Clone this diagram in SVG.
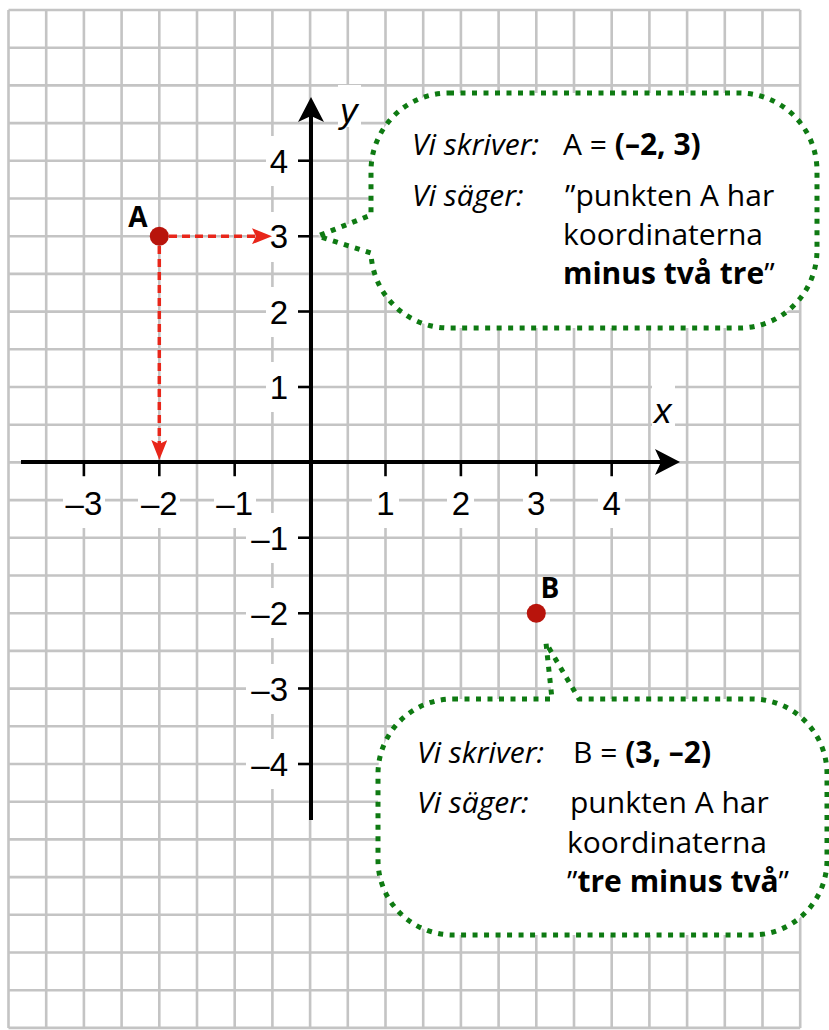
<svg xmlns="http://www.w3.org/2000/svg" width="829" height="1030" viewBox="0 0 829 1030">
<style>
.grid{stroke:#c4c4c4;stroke-width:2.6;fill:none}
.axis{stroke:#000;stroke-width:4;fill:none}
.tick{stroke:#000;stroke-width:2.5}
.num{font-family:"Liberation Sans",Arial,sans-serif;font-size:33px;fill:#000}
.var{font-family:"Liberation Sans",Arial,sans-serif;font-size:35px;font-style:italic;fill:#000}
.box{fill:#fff}
.red{stroke:#e8261a;stroke-width:3.5;stroke-dasharray:8 5;fill:none}
.pt{fill:#b8140c}
.plbl{font-family:"Open Sans",sans-serif;font-weight:bold;font-size:28px;fill:#000}
.bubble{fill:#fff;stroke:#0e7a12;stroke-width:5;stroke-dasharray:5 6.5}
.t{font-family:"Open Sans",sans-serif;font-size:30px;fill:#000}
.i{font-style:italic}
.b{font-weight:bold}
</style>
<defs>
<marker id="redArrow" viewBox="0 0 20 16" refX="4" refY="8" markerWidth="20" markerHeight="16" markerUnits="userSpaceOnUse" orient="auto">
<path d="M0,0 L20,8 L0,16 L4,8 Z" fill="#e8261a"/>
</marker>
<marker id="axArrow" viewBox="0 0 25 26" refX="6" refY="13" markerWidth="25" markerHeight="26" markerUnits="userSpaceOnUse" orient="auto">
<path d="M0,0 L25,13 L0,26 L6,13 Z" fill="#000"/>
</marker>
</defs>
<rect width="829" height="1030" fill="#fff"/>
<g id="grid" class="grid">
<path d="M8.5,10V1028M46.2,10V1028M83.9,10V1028M121.6,10V1028M159.3,10V1028M197,10V1028M234.7,10V1028M272.4,10V1028M310.1,10V1028M347.8,10V1028M385.5,10V1028M423.2,10V1028M460.9,10V1028M498.6,10V1028M536.3,10V1028M574,10V1028M611.7,10V1028M649.4,10V1028M687.1,10V1028M724.8,10V1028M762.5,10V1028M800.2,10V1028"/>
<path d="M8.5,10H800.2M8.5,47.7H800.2M8.5,85.4H800.2M8.5,123.1H800.2M8.5,160.8H800.2M8.5,198.5H800.2M8.5,236.2H800.2M8.5,273.9H800.2M8.5,311.6H800.2M8.5,349.3H800.2M8.5,387H800.2M8.5,424.7H800.2M8.5,462.4H800.2M8.5,500.1H800.2M8.5,537.8H800.2M8.5,575.5H800.2M8.5,613.2H800.2M8.5,650.9H800.2M8.5,688.6H800.2M8.5,726.3H800.2M8.5,764H800.2M8.5,801.7H800.2M8.5,839.4H800.2M8.5,877.1H800.2M8.5,914.8H800.2M8.5,952.5H800.2M8.5,990.2H800.2M8.5,1027.9H800.2"/>
</g>
<g id="label-boxes" class="box">
<rect x="63" y="477" width="42" height="51"/>
<rect x="138" y="477" width="42" height="51"/>
<rect x="214" y="477" width="42" height="51"/>
<rect x="372" y="477" width="27" height="51"/>
<rect x="447" y="477" width="27" height="51"/>
<rect x="523" y="477" width="27" height="51"/>
<rect x="598" y="477" width="27" height="51"/>
<rect x="266" y="136" width="32" height="50"/>
<rect x="266" y="212" width="32" height="50"/>
<rect x="266" y="287" width="32" height="50"/>
<rect x="266" y="362" width="32" height="50"/>
<rect x="246" y="513" width="52" height="50"/>
<rect x="246" y="588" width="52" height="50"/>
<rect x="246" y="664" width="52" height="50"/>
<rect x="246" y="739" width="52" height="50"/>
<rect x="652" y="385" width="23" height="42"/>
<rect x="338" y="85" width="23" height="42"/>
</g>
<g id="axes">
<line id="x-axis" class="axis" x1="21" y1="462" x2="661" y2="462" marker-end="url(#axArrow)"/>
<line id="y-axis" class="axis" x1="311" y1="820" x2="311" y2="116" marker-end="url(#axArrow)"/>
<g class="tick">
<path d="M83.9,462V476M159.3,462V476M234.7,462V476M385.5,462V476M460.9,462V476M536.3,462V476M611.7,462V476"/>
<path d="M298,160.8H311M298,236.2H311M298,311.6H311M298,387H311M298,537.8H311M298,613.2H311M298,688.6H311M298,764H311"/>
</g>
<g class="num" text-anchor="middle">
<text x="83.9" y="515">–3</text>
<text x="159.3" y="515">–2</text>
<text x="234.7" y="515">–1</text>
<text x="385.5" y="515">1</text>
<text x="460.9" y="515">2</text>
<text x="536.3" y="515">3</text>
<text x="611.7" y="515">4</text>
</g>
<g class="num" text-anchor="end">
<text x="288" y="172.8">4</text>
<text x="288" y="248.2">3</text>
<text x="288" y="323.6">2</text>
<text x="288" y="399">1</text>
<text x="288" y="549.8">–1</text>
<text x="288" y="625.2">–2</text>
<text x="288" y="700.6">–3</text>
<text x="288" y="776">–4</text>
</g>
<text class="var" x="654" y="423">x</text>
<text class="var" x="340" y="123">y</text>
</g>
<g id="connectors">
<line class="red" x1="169" y1="236.2" x2="256" y2="236.2" marker-end="url(#redArrow)"/>
<line class="red" x1="159.3" y1="246" x2="159.3" y2="444" marker-end="url(#redArrow)"/>
</g>
<g id="point-A">
<circle class="pt" cx="159.3" cy="236.2" r="9.5"/>
<text class="plbl" x="138" y="227" text-anchor="middle">A</text>
</g>
<g id="point-B">
<circle class="pt" cx="536.3" cy="613.2" r="9.5"/>
<text class="plbl" x="550" y="598" text-anchor="middle">B</text>
</g>
<g id="callout-A">
<path class="bubble" d="M449,93 H739 A78,78 0 0 1 817,171 V250 A78,78 0 0 1 739,328 H449 A78,78 0 0 1 371,253 L318,236 L371,215 V171 A78,78 0 0 1 449,93 Z"/>
<text class="t" y="155"><tspan class="i" x="412">Vi skriver:</tspan><tspan x="563">A = </tspan><tspan class="b">(–2, 3)</tspan></text>
<text class="t" y="206"><tspan class="i" x="412">Vi säger:</tspan><tspan x="565">”punkten A har</tspan></text>
<text class="t" x="563" y="245">koordinaterna</text>
<text class="t" x="563" y="284"><tspan class="b">minus två tre</tspan>”</text>
</g>
<g id="callout-B">
<path class="bubble" d="M453,699 H552 L546,643 L579,699 H752 A75,75 0 0 1 827,774 V860 A75,75 0 0 1 752,935 H453 A75,75 0 0 1 378,860 V774 A75,75 0 0 1 453,699 Z"/>
<text class="t" y="763"><tspan class="i" x="417">Vi skriver:</tspan><tspan x="573">B = </tspan><tspan class="b">(3, –2)</tspan></text>
<text class="t" y="813"><tspan class="i" x="417">Vi säger:</tspan><tspan x="570">punkten A har</tspan></text>
<text class="t" x="567" y="853">koordinaterna</text>
<text class="t" x="567" y="892">”<tspan class="b">tre minus två</tspan>”</text>
</g>
</svg>
